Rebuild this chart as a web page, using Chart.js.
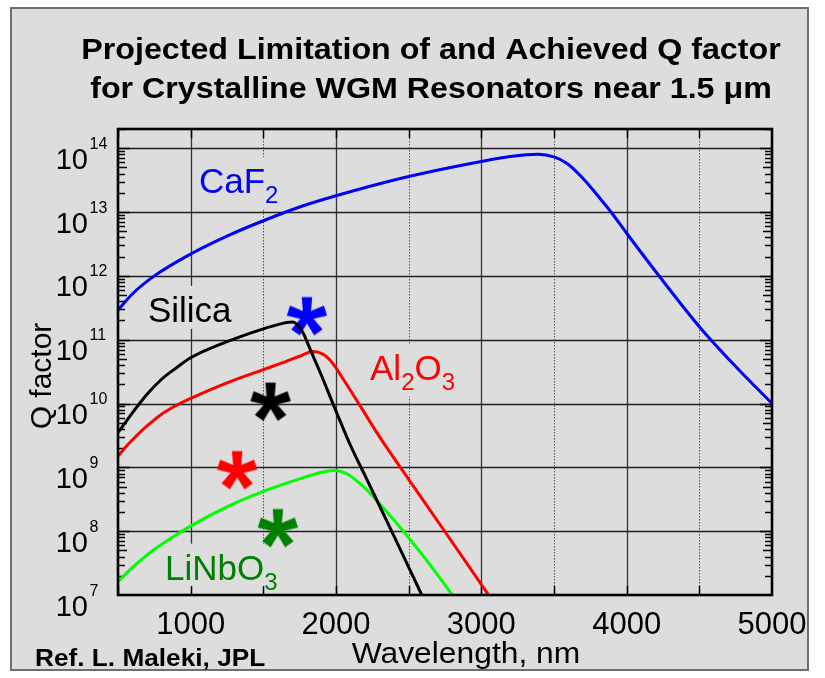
<!DOCTYPE html>
<html><head><meta charset="utf-8">
<script src="https://cdn.jsdelivr.net/npm/chart.js@4.4.0/dist/chart.umd.min.js"></script>
<style>html,body{margin:0;padding:0;background:#fff;}#wrap{width:825px;height:678px;}</style>
</head><body><div id="wrap"><canvas id="c" width="825" height="678"></canvas></div>
<script>
// ---- data ----
const caf2Wavelength = [500, 600, 750, 1000, 1250, 1500, 1750, 2000, 2500, 3000, 3200, 3390, 3500, 3590, 3700, 3820, 3900, 4000, 4250, 4500, 4750, 5000];
const caf2Q = [2.9e11, 5.25e11, 1.0e12, 2.2e12, 4.2e12, 7.3e12, 1.2e13, 1.8e13, 3.6e13, 6.2e13, 7.4e13, 8.05e13, 7.3e13, 5.75e13, 3.35e13, 1.6e13, 9.5e12, 4.65e12, 8.3e11, 1.6e11, 3.8e10, 1.0e10];

const silicaWavelength = [500, 550, 600, 700, 800, 900, 1000, 1250, 1500, 1600, 1660, 1700, 1740, 1780, 1800, 1900, 2000, 2100, 2200, 2400, 2590];
const silicaQ = [3.5e9, 5.0e9, 7.2e9, 1.4e10, 2.4e10, 3.6e10, 5.2e10, 9.3e10, 1.48e11, 1.72e11, 1.86e11, 1.9e11, 1.66e11, 1.2e11, 9.3e10, 2.75e10, 7.6e9, 2.2e9, 7.4e8, 8.3e7, 1.0e7];

const al2o3Wavelength = [500, 550, 600, 700, 800, 900, 1000, 1250, 1500, 1650, 1750, 1840, 1920, 1980, 2050, 2100, 2300, 2500, 2750, 3050];
const al2o3Q = [1.5e9, 2.05e9, 2.7e9, 4.45e9, 6.8e9, 9.3e9, 1.2e10, 2.1e10, 3.4e10, 4.5e10, 5.5e10, 6.55e10, 5.75e10, 4.2e10, 2.4e10, 1.6e10, 3.0e9, 6.5e8, 9.8e7, 1.0e7];

const linbo3Wavelength = [500, 600, 720, 850, 1000, 1250, 1500, 1750, 1900, 1980, 2080, 2200, 2300, 2400, 2500, 2600, 2700, 2800];
const linbo3Q = [1.62e7, 2.7e7, 4.6e7, 7.4e7, 1.2e8, 2.4e8, 4.2e8, 6.6e8, 8.4e8, 8.9e8, 7.8e8, 4.7e8, 2.7e8, 1.48e8, 7.9e7, 4.1e7, 2.05e7, 1.0e7];

// achieved Q (asterisks): CaF2, Silica, Al2O3, LiNbO3
const achievedWavelength = [1800, 1550, 1320, 1600];
const achievedQ = [2.3e11, 1.05e10, 8.9e8, 1.1e8];

const xTickValues = [500, 1000, 1500, 2000, 2500, 3000, 3500, 4000, 4500, 5000];
const yDecades = [7, 8, 9, 10, 11, 12, 13, 14];

// series label anchors (data coords)
const seriesLabels = [
  { parts: [['CaF', 0], ['2', 1]], x: 1057, q: 2.0e13, color: '#0000ff' },
  { parts: [['Silica', 0]], x: 706, q: 1.9e11, color: '#000000' },
  { parts: [['Al', 0], ['2', 1], ['O', 0], ['3', 1]], x: 2234, q: 2.35e10, color: '#ff0000' },
  { parts: [['LiNbO', 0], ['3', 1]], x: 823, q: 1.74e7, color: '#008000' }
];

const FONT = '"Liberation Sans", Arial, Helvetica, sans-serif';
const BG = '#dddddd';

function toXY(xs, ys) { return xs.map((x, i) => ({ x: x, y: ys[i] })); }

function asterisk(color) {
  const c = document.createElement('canvas');
  c.width = 46; c.height = 46;
  const g = c.getContext('2d');
  g.fillStyle = color;
  g.translate(23, 23);
  const L = 19.5, b = 3.6, t = 5.2;
  for (let k = 0; k < 5; k++) {
    g.save();
    g.rotate(k * 2 * Math.PI / 5);
    g.beginPath();
    g.moveTo(-b, 0); g.lineTo(-t, -L); g.lineTo(t, -L); g.lineTo(b, 0); g.closePath();
    g.fill();
    g.restore();
  }
  g.beginPath(); g.arc(0, 0, 4.5, 0, Math.PI * 2); g.fill();
  return c;
}

const starColors = ['#0000ff', '#000000', '#ff0000', '#008000'];

function stretchedText(ctx, text, x, y, sx, align) {
  ctx.save();
  ctx.translate(x, y);
  ctx.scale(sx, 1);
  ctx.textAlign = align;
  ctx.fillText(text, 0, 0);
  ctx.restore();
}

const decor = {
  id: 'decor',
  beforeDraw(chart) {
    const ctx = chart.ctx;
    ctx.save();
    ctx.fillStyle = '#ffffff';
    ctx.fillRect(0, 0, chart.width, chart.height);
    ctx.fillStyle = BG;
    ctx.fillRect(11, 8, 797, 662);
    ctx.strokeStyle = '#6e6e6e';
    ctx.lineWidth = 2;
    ctx.strokeRect(11, 8, 797, 662);
    // title
    ctx.fillStyle = '#000';
    ctx.textBaseline = 'alphabetic';
    ctx.font = 'bold 29px ' + FONT;
    stretchedText(ctx, 'Projected Limitation of and Achieved Q factor', 431, 59, 1.11, 'center');
    stretchedText(ctx, 'for Crystalline WGM Resonators near 1.5 \u03bcm', 431, 98, 1.11, 'center');
    // ref
    ctx.font = 'bold 23px ' + FONT;
    stretchedText(ctx, 'Ref. L. Maleki, JPL', 35, 666, 1.14, 'left');
    // x title
    ctx.font = '30px ' + FONT;
    stretchedText(ctx, 'Wavelength, nm', 466, 663, 1.06, 'center');
    // y title
    ctx.save();
    ctx.translate(51, 376);
    ctx.rotate(-Math.PI / 2);
    ctx.textAlign = 'center';
    ctx.fillText('Q factor', 0, 0);
    ctx.restore();
    // y tick labels
    const ys = chart.scales.y;
    yDecades.forEach(n => {
      const py = ys.getPixelForValue(Math.pow(10, n));
      ctx.textAlign = 'right';
      ctx.font = '29px ' + FONT;
      ctx.fillText('10', 88, py + 20.5);
      ctx.textAlign = 'left';
      ctx.font = '16px ' + FONT;
      ctx.fillText(String(n), 89.5, py + 0.5);
    });
    ctx.restore();
  },
  beforeDatasetsDraw(chart) {
    const ctx = chart.ctx, xs = chart.scales.x, ys = chart.scales.y, ca = chart.chartArea;
    ctx.save();
    ctx.beginPath(); ctx.rect(ca.left, ca.top, ca.right - ca.left, ca.bottom - ca.top); ctx.clip();
    // vertical grid
    xTickValues.forEach(v => {
      if (v === 500 || v === 5000) return;
      const px = Math.round(xs.getPixelForValue(v)) + 0.5;
      ctx.beginPath();
      if (v % 1000 === 0) { ctx.setLineDash([]); ctx.strokeStyle = '#333'; ctx.lineWidth = 1.3; }
      else { ctx.setLineDash([1.5, 1.5]); ctx.strokeStyle = '#555'; ctx.lineWidth = 1; }
      ctx.moveTo(px, ca.top); ctx.lineTo(px, ca.bottom); ctx.stroke();
    });
    ctx.setLineDash([]);
    // horizontal grid
    yDecades.forEach(n => {
      const py = Math.round(ys.getPixelForValue(Math.pow(10, n))) + 0.5;
      ctx.beginPath(); ctx.strokeStyle = '#222'; ctx.lineWidth = 1.3;
      ctx.moveTo(ca.left, py); ctx.lineTo(ca.right, py); ctx.stroke();
    });
    // series labels with background boxes
    seriesLabels.forEach(lab => {
      const x0 = xs.getPixelForValue(lab.x), base = ys.getPixelForValue(lab.q);
      let w = 0, maxB = base;
      lab.parts.forEach(([t, sub]) => {
        ctx.font = (sub ? '24px ' : '35px ') + FONT;
        w += ctx.measureText(t).width;
        if (sub) maxB = base + 10;
      });
      ctx.fillStyle = BG;
      ctx.fillRect(x0 - 4, base - 36, w + 8, maxB + 7 - (base - 36));
      let cx = x0;
      ctx.fillStyle = lab.color;
      ctx.textAlign = 'left';
      lab.parts.forEach(([t, sub]) => {
        ctx.font = (sub ? '24px ' : '35px ') + FONT;
        ctx.fillText(t, cx, sub ? base + 10 : base);
        cx += ctx.measureText(t).width;
      });
    });
    // axis tick marks (inward)
    ctx.strokeStyle = '#000'; ctx.lineWidth = 1.5;
    xTickValues.forEach(v => {
      const px = Math.round(xs.getPixelForValue(v)) + 0.5;
      ctx.beginPath();
      ctx.moveTo(px, ca.bottom); ctx.lineTo(px, ca.bottom - 9);
      ctx.moveTo(px, ca.top); ctx.lineTo(px, ca.top + 9);
      ctx.stroke();
    });
    for (let n = 7; n <= 14; n++) {
      for (let k = 1; k <= 9; k++) {
        const v = k * Math.pow(10, n);
        if (v > ys.max) break;
        const py = Math.round(ys.getPixelForValue(v)) + 0.5;
        const len = k === 1 ? 12 : (k === 5 ? 9 : 7);
        ctx.beginPath();
        ctx.moveTo(ca.left, py); ctx.lineTo(ca.left + len, py);
        ctx.moveTo(ca.right, py); ctx.lineTo(ca.right - len, py);
        ctx.stroke();
      }
    }
    ctx.restore();
  },
  afterDatasetsDraw(chart) {
    const ctx = chart.ctx, ca = chart.chartArea;
    ctx.save();
    ctx.strokeStyle = '#000'; ctx.lineWidth = 2.6;
    ctx.strokeRect(ca.left, ca.top, ca.right - ca.left, ca.bottom - ca.top);
    ctx.restore();
  }
};

const lineDs = (label, xs, ys, color) => ({
  type: 'line', label: label, data: toXY(xs, ys), borderColor: color, borderWidth: 3,
  pointRadius: 0, cubicInterpolationMode: 'monotone', fill: false
});

new Chart(document.getElementById('c'), {
  type: 'line',
  data: {
    datasets: [
      lineDs('CaF2', caf2Wavelength, caf2Q, '#0000ff'),
      lineDs('Silica', silicaWavelength, silicaQ, '#000000'),
      lineDs('Al2O3', al2o3Wavelength, al2o3Q, '#ff0000'),
      lineDs('LiNbO3', linbo3Wavelength, linbo3Q, '#00ff00'),
      {
        type: 'scatter', label: 'Achieved', data: toXY(achievedWavelength, achievedQ),
        showLine: false, pointRadius: 10, pointStyle: starColors.map(asterisk),
        borderWidth: 0
      }
    ]
  },
  options: {
    responsive: false, animation: false,
    layout: { padding: { top: 129, right: 53, bottom: 0, left: 0 } },
    plugins: { legend: { display: false }, tooltip: { enabled: false } },
    scales: {
      x: {
        type: 'linear', min: 500, max: 5000,
        afterBuildTicks: s => { s.ticks = xTickValues.map(v => ({ value: v })); },
        ticks: { callback: v => (v % 1000 === 0 ? String(v) : ''), font: { family: FONT, size: 31 }, color: '#000', padding: 12, maxRotation: 0, autoSkip: false },
        grid: { display: false, drawTicks: false },
        border: { display: false },
        afterFit: s => { s.height = 83; }
      },
      y: {
        type: 'logarithmic', min: 1e7, max: 2e14,
        ticks: { display: false },
        grid: { display: false, drawTicks: false },
        border: { display: false },
        afterFit: s => { s.width = 118; }
      }
    }
  },
  plugins: [decor]
});
</script></body></html>
